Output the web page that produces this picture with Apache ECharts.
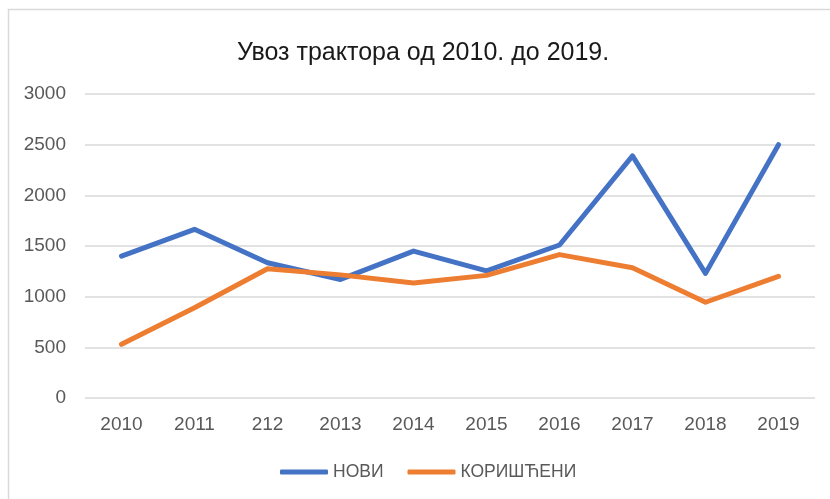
<!DOCTYPE html>
<html>
<head>
<meta charset="utf-8">
<script src="https://cdn.jsdelivr.net/npm/echarts@6/dist/echarts.min.js"></script>
<style>
  html, body { margin: 0; padding: 0; background: #fff; }
  #main { width: 830px; height: 499px; }
</style>
</head>
<body>
<div id="main"></div>
<script>
// categories as printed on the original axis (incl. the "212" typo)
const years = ['2010', '2011', '212', '2013', '2014', '2015', '2016', '2017', '2018', '2019'];
const noviValues = [1400, 1665, 1335, 1170, 1450, 1255, 1510, 2390, 1230, 2500];
const koristeniValues = [530, 890, 1275, 1215, 1135, 1210, 1415, 1285, 945, 1200];
const yTicks = { min: 0, max: 3000, interval: 500 };

const chart = echarts.init(document.getElementById('main'));
const font = '"Liberation Sans", Arial, sans-serif';

const option = {
  animation: false,
  backgroundColor: '#fff',
  title: {
    text: 'Увоз трактора од 2010. до 2019.',
    left: 232,
    top: 36,
    textStyle: { fontFamily: font, fontSize: 25, fontWeight: 'normal', color: '#1a1a1a' }
  },
  graphic: [{
    type: 'rect',
    shape: { x: 8.5, y: 9.5, width: 900, height: 600 },
    style: { fill: 'none', stroke: '#d9d9d9', lineWidth: 1.5 },
    silent: true
  }],
  legend: {
    data: ['НОВИ', 'КОРИШЋЕНИ'],
    left: 275,
    top: 458,
    icon: 'roundRect',
    itemWidth: 48,
    itemHeight: 5,
    itemGap: 24,
    textStyle: { fontFamily: font, fontSize: 17.5, color: '#595959' }
  },
  grid: { left: 85, right: 15, top: 94, bottom: 101 },
  xAxis: {
    type: 'category',
    data: years,
    boundaryGap: true,
    axisLine: { show: false },
    axisTick: { show: false },
    axisLabel: { margin: 17, fontFamily: font, fontSize: 19, color: '#595959' }
  },
  yAxis: {
    type: 'value',
    min: yTicks.min,
    max: yTicks.max,
    interval: yTicks.interval,
    axisLine: { show: false },
    axisTick: { show: false },
    axisLabel: {
      margin: 19, fontFamily: font, fontSize: 19, color: '#595959',
      formatter: function (v) { return String(v); }
    },
    splitLine: { lineStyle: { color: '#d9d9d9', width: 1.5 } }
  },
  series: [
    {
      name: 'НОВИ',
      type: 'line',
      data: noviValues,
      showSymbol: false,
      color: '#4472C4',
      lineStyle: { width: 5, cap: 'round', join: 'round' }
    },
    {
      name: 'КОРИШЋЕНИ',
      type: 'line',
      data: koristeniValues,
      showSymbol: false,
      color: '#ED7D31',
      lineStyle: { width: 5, cap: 'round', join: 'round' }
    }
  ]
};

chart.setOption(option);
</script>
</body>
</html>
